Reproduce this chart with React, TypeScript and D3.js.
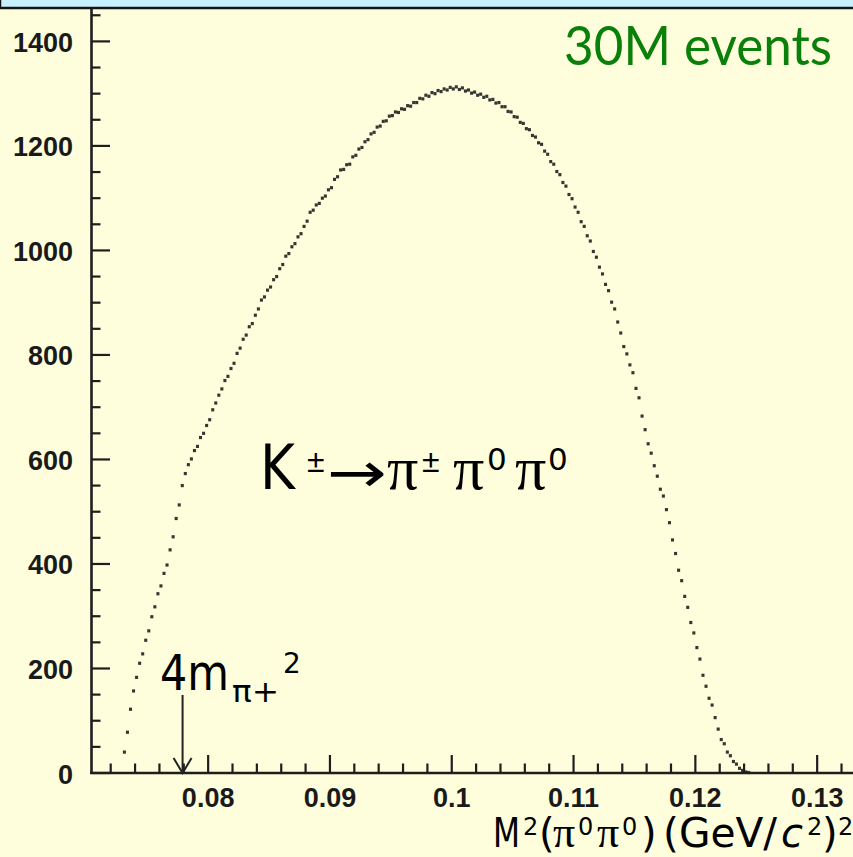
import React from "react";
import * as d3 from "d3";

// histogram of M^2(pi0 pi0), bins of 0.00025 starting at 0.0730
const binStart = 0.073;
const binWidth = 0.00025;

const risingEdge = [
  40, 78, 122, 157, 183, 210, 228, 254, 272, 299,
  318, 343, 358, 382, 398, 427, 452, 487, 513, 550,
  573, 590, 601, 617, 625, 642, 650, 665, 676, 695,
  708, 723, 735, 751, 759, 774, 784, 803, 813, 830,
  838, 854, 860, 876, 888, 905, 911, 924, 930, 944,
  950, 965, 973, 989, 994, 1007, 1013, 1026, 1032, 1046,
];

const plateau = [
  1056, 1073, 1077, 1087, 1090, 1100, 1104, 1116, 1120, 1136,
  1141, 1154, 1155, 1164, 1165, 1179, 1182, 1194, 1197, 1208,
  1212, 1223, 1226, 1236, 1238, 1247, 1248, 1257, 1258, 1265,
  1264, 1271, 1270, 1277, 1276, 1283, 1283, 1291, 1290, 1297,
  1295, 1302, 1300, 1306, 1304, 1309, 1307, 1312, 1309, 1313,
  1308, 1311, 1305, 1307, 1301, 1303, 1297, 1299, 1293, 1295,
  1288, 1289, 1282, 1283, 1275, 1275, 1266, 1265, 1256, 1255,
  1245, 1243, 1233, 1231, 1220, 1217, 1206, 1203, 1190, 1184,
  1170, 1165, 1151, 1145, 1130, 1123, 1107, 1099, 1083, 1073,
];

const fallingEdge = [
  1055, 1046, 1028, 1018, 998, 987, 968, 955, 935, 923,
  901, 888, 863, 842, 816, 802, 781, 766, 736, 718,
  683, 657, 630, 612, 588, 568, 543, 530, 504, 479,
  446, 420, 388, 368, 338, 317, 288, 268, 240, 218,
  187, 166, 143, 130, 106, 84, 64, 56, 40, 33,
  22, 17, 9, 5, 2, 1,
];

const xTickLabels = ["0.08", "0.09", "0.1", "0.11", "0.12", "0.13"];
const yTickLabels = ["0", "200", "400", "600", "800", "1000", "1200", "1400"];

// 4 m_pi+^2 threshold (cusp)
const cuspPosition = 0.0779;

const W = 853;
const H = 857;

export default function App() {
  const counts = [...risingEdge, ...plateau, ...fallingEdge];
  const bins = counts.map((c, i) => ({ x: binStart + binWidth * (i + 0.5), c }));

  const x = d3.scaleLinear().domain([0.0703, 0.133]).range([90, 853.7]);
  const y = d3.scaleLinear().domain([0, 1462]).range([773, 9]);

  const xMinor = d3.range(0.072, 0.1331, 0.002);
  const yMinor = d3.range(0, 1451, 50);

  const tickFont = "'Liberation Sans', Arial, Helvetica, sans-serif";
  const textFont = "'DejaVu Sans', Tahoma, Verdana, sans-serif";
  const symFont = "'Liberation Serif', 'Times New Roman', serif";
  const axisColor = "#1e1e1e";

  const cx = x(cuspPosition);
  const barW = x(binStart + binWidth) - x(binStart);

  return (
    <svg
      width={W}
      height={H}
      style={{ position: "absolute", left: 0, top: 0 }}
      xmlns="http://www.w3.org/2000/svg"
    >
      <rect x={0} y={0} width={W} height={H} fill="#fefedc" />
      <rect x={0} y={-6} width={W + 10} height={14} fill="#c6f2ff" stroke="#151515" strokeWidth={2.5} />

      {/* axes */}
      <line x1={x(0.0703)} x2={W} y1={y(0)} y2={y(0)} stroke={axisColor} strokeWidth={2.4} />
      <line x1={x(0.0703) + 1.5} x2={x(0.0703) + 1.5} y1={y(1462)} y2={y(0)} stroke={axisColor} strokeWidth={2.6} />

      {yMinor.map((v) => {
        const major = v % 200 === 0;
        return (
          <line
            key={"ym" + v}
            x1={x(0.0703) + 1.5}
            x2={x(0.0703) + (major ? 20 : 10.5)}
            y1={y(v)}
            y2={y(v)}
            stroke={axisColor}
            strokeWidth={2.2}
          />
        );
      })}
      {xMinor.map((v, i) => {
        const major = Math.abs(v * 100 - Math.round(v * 100)) < 1e-6;
        return (
          <line
            key={"xm" + i}
            x1={x(v)}
            x2={x(v)}
            y1={y(0)}
            y2={y(0) - (major ? 18 : 9.5)}
            stroke={axisColor}
            strokeWidth={2.2}
          />
        );
      })}

      {yTickLabels.map((t) => (
        <text
          key={"yl" + t}
          x={73}
          y={y(+t) + 10.5}
          textAnchor="end"
          fontFamily={tickFont}
          fontWeight="bold"
          fontSize={27}
          fill="#1a1a1a"
        >
          {t}
        </text>
      ))}
      {xTickLabels.map((t) => (
        <text
          key={"xl" + t}
          x={x(+t)}
          y={807}
          textAnchor="middle"
          fontFamily={tickFont}
          fontWeight="bold"
          fontSize={27}
          fill="#1a1a1a"
        >
          {t}
        </text>
      ))}

      {/* data points */}
      <g fill="#1f1f1f" fillOpacity={0.9}>
        {bins.map((b, i) => (
          <rect
            key={"p" + i}
            x={x(b.x) - barW * 0.5}
            y={y(b.c) - 1.6}
            width={barW}
            height={3.2}
          />
        ))}
      </g>

      {/* cusp arrow */}
      <line x1={cx} x2={cx} y1={695} y2={y(0)} stroke="#222" strokeWidth={2} />
      <path
        d={`M${cx - 9},${y(0) - 15} L${cx},${y(0)} L${cx + 9},${y(0) - 15}`}
        fill="none"
        stroke="#222"
        strokeWidth={2}
      />
      <text fontFamily={textFont} fill="#000" x={160} y={690} fontSize={50} textLength={69} lengthAdjust="spacingAndGlyphs">
        4m
      </text>
      <text fontFamily={textFont} fill="#000" x={232} y={702} fontSize={30} textLength={47} lengthAdjust="spacingAndGlyphs">
        π+
      </text>
      <text fontFamily={textFont} fill="#000" x={283} y={673} fontSize={28}>
        2
      </text>

      {/* decay label */}
      <text fill="#000" x={260} y={489} fontFamily={textFont} fontSize={63} textLength={35} lengthAdjust="spacingAndGlyphs">
        K
      </text>
      <text fill="#000" y={472} fontFamily={tickFont} fontSize={32}>
        <tspan x={307}>±</tspan>
        <tspan x={422}>±</tspan>
      </text>
      <text
        fill="#000"
        x={327}
        y={492}
        fontFamily={textFont}
        fontSize={56}
        textLength={60}
        lengthAdjust="spacingAndGlyphs"
      >
        →
      </text>
      <text fill="#000" y={489} fontFamily={symFont} fontSize={62}>
        <tspan x={387}>π</tspan>
        <tspan x={453}>π</tspan>
        <tspan x={515}>π</tspan>
      </text>
      <text fill="#000" y={470} fontFamily={textFont} fontSize={31}>
        <tspan x={487}>0</tspan>
        <tspan x={548}>0</tspan>
      </text>

      {/* event count */}
      <text
        x={564}
        y={65}
        fontFamily="Lato, 'DejaVu Sans', sans-serif"
        fontSize={55}
        fill="#0a800a"
        textLength={268}
        lengthAdjust="spacingAndGlyphs"
      >
        30M events
      </text>

      {/* axis title */}
      <g fontFamily={textFont} fill="#000">
        <text x={493} y={847} fontSize={40} textLength={27} lengthAdjust="spacingAndGlyphs">M</text>
        <text x={523} y={835} fontSize={24}>2</text>
        <text x={539} y={847} fontSize={40}>(</text>
        <text y={847} fontFamily={symFont} fontSize={44}>
          <tspan x={553}>π</tspan>
          <tspan x={597}>π</tspan>
        </text>
        <text y={835} fontSize={24}>
          <tspan x={578}>0</tspan>
          <tspan x={622}>0</tspan>
        </text>
        <text x={641} y={847} fontSize={40}>)</text>
        <text x={663} y={847} fontSize={40} textLength={114} lengthAdjust="spacingAndGlyphs">(GeV/</text>
        <text x={781} y={847} fontSize={40} fontStyle="italic">c</text>
        <text x={807} y={835} fontSize={24}>2</text>
        <text x={822} y={847} fontSize={40}>)</text>
        <text x={838} y={835} fontSize={24}>2</text>
      </g>
    </svg>
  );
}
